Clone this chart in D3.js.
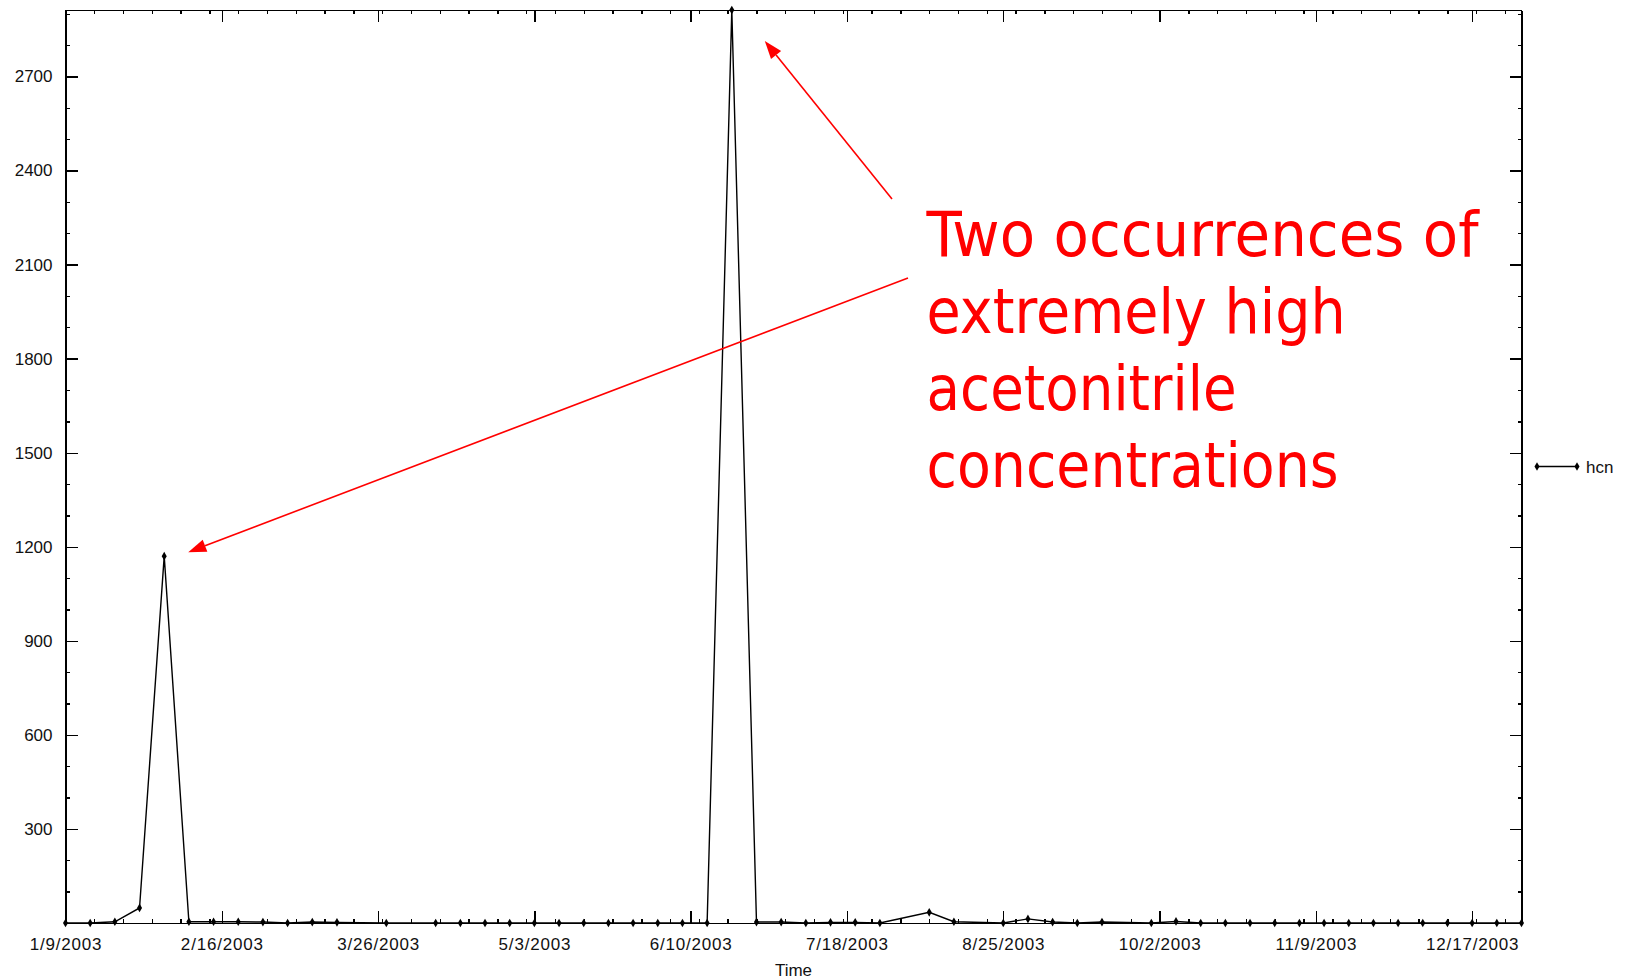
<!DOCTYPE html>
<html>
<head>
<meta charset="utf-8">
<script src="https://cdn.jsdelivr.net/npm/d3@7"></script>
<style>
  html, body { margin: 0; padding: 0; background: #fff; }
  svg { display: block; }
  .axis text { font-family: "Liberation Sans", Arial, sans-serif; font-size: 17px; fill: #111; }
  .axis path, .axis line { stroke: #000; stroke-width: 1.4px; shape-rendering: crispEdges; }
  .x-labels text { letter-spacing: 0.8px; }
</style>
</head>
<body>
<div id="chart"></div>
<script>
// 1-in-6 day samples (some days missing)
const sampleDates = [
  "1/9/2003", "1/15/2003", "1/21/2003", "1/27/2003", "2/2/2003", "2/8/2003",
  "2/14/2003", "2/20/2003", "2/26/2003", "3/4/2003", "3/10/2003", "3/16/2003",
  "3/28/2003", "4/9/2003", "4/15/2003", "4/21/2003", "4/27/2003", "5/3/2003",
  "5/9/2003", "5/15/2003", "5/21/2003", "5/27/2003", "6/2/2003", "6/8/2003",
  "6/14/2003", "6/20/2003", "6/26/2003", "7/2/2003", "7/8/2003", "7/14/2003",
  "7/20/2003", "7/26/2003", "8/7/2003", "8/13/2003", "8/25/2003", "8/31/2003",
  "9/6/2003", "9/12/2003", "9/18/2003", "9/30/2003", "10/6/2003", "10/12/2003",
  "10/18/2003", "10/24/2003", "10/30/2003", "11/5/2003", "11/11/2003", "11/17/2003",
  "11/23/2003", "11/29/2003", "12/5/2003", "12/11/2003", "12/17/2003", "12/23/2003",
  "12/29/2003",
]
const hcnValues = [
  0, 0, 4, 48, 1170, 4,
  4, 4, 3, 0, 3, 2,
  0, 0, 0, 0, 0, 0,
  0, 0, 0, 0, 0, 0,
  0, 2912, 3, 3, 0, 2,
  2, 0, 34, 4, 0, 13,
  3, 0, 3, 0, 5, 0,
  0, 0, 0, 0, 0, 0,
  0, 0, 0, 0, 0, 0,
  0,
]
const xTickLabels = [
  "1/9/2003", "2/16/2003", "3/26/2003", "5/3/2003", "6/10/2003",
  "7/18/2003", "8/25/2003", "10/2/2003", "11/9/2003", "12/17/2003",
]
const yTickValues = [300, 600, 900, 1200, 1500, 1800, 2100, 2400, 2700]
const yMax = 2912
const seriesName = "hcn"
const xAxisTitle = "Time"
const noteLines = [
  "Two occurrences of",
  "extremely high",
  "acetonitrile",
  "concentrations",
]

const drawChart = () => {
  // 1. Get Data
  const parseDate = d3.timeParse("%m/%d/%Y")
  const data = sampleDates.map((d, i) => ({ date: parseDate(d), value: hcnValues[i] }))
  const xAccessor = d => d.date
  const yAccessor = d => d.value

  // 2. Set Dimensions
  const dimensions = {
    width: 1627,
    height: 980,
    margin: { top: 10, right: 105.5, bottom: 57, left: 65.5 },
  }
  dimensions.boundedWidth =
    dimensions.width - dimensions.margin.left - dimensions.margin.right
  dimensions.boundedHeight =
    dimensions.height - dimensions.margin.top - dimensions.margin.bottom

  // 3. Set Scales
  const xScale = d3
    .scaleTime()
    .domain(d3.extent(data, xAccessor))
    .range([0, dimensions.boundedWidth])
  const yScale = d3
    .scaleLinear()
    .domain([0, yMax])
    .range([dimensions.boundedHeight, 0])

  // 4. Draw Graph
  const svg = d3
    .select("#chart")
    .append("svg")
    .attr("width", dimensions.width)
    .attr("height", dimensions.height)
  const bounds = svg
    .append("g")
    .attr("transform", `translate(${dimensions.margin.left},${dimensions.margin.top})`)

  // ticks: major labelled every 38 days, minor every Thursday, all pointing inward
  const majorX = xTickLabels.map(parseDate)
  const minorX = d3.timeThursday.range(
    xScale.domain()[0],
    d3.timeDay.offset(xScale.domain()[1], 1)
  )
  const minorY = d3.range(100, yMax, 100)
  const bw = dimensions.boundedWidth
  const bh = dimensions.boundedHeight

  const addAxis = (gen, transform, showLabels) => {
    const g = bounds.append("g").attr("class", "axis").attr("transform", transform)
    g.call(gen)
    if (!showLabels) g.selectAll("text").remove()
    return g
  }

  addAxis(d3.axisBottom(xScale).tickValues(minorX).tickSize(-4).tickSizeOuter(0), `translate(0,${bh})`, false)
  addAxis(d3.axisTop(xScale).tickValues(minorX).tickSize(-4).tickSizeOuter(0), "translate(0,0)", false)
  addAxis(d3.axisLeft(yScale).tickValues(minorY).tickSize(-4).tickSizeOuter(0), "translate(0,0)", false)
  addAxis(d3.axisRight(yScale).tickValues(minorY).tickSize(-4).tickSizeOuter(0), `translate(${bw},0)`, false)

  addAxis(
    d3.axisBottom(xScale).tickValues(majorX).tickSize(-12).tickSizeOuter(0)
      .tickPadding(15).tickFormat(d3.timeFormat("%-m/%-d/%Y")),
    `translate(0,${bh})`, true
  ).classed("x-labels", true)
  addAxis(d3.axisTop(xScale).tickValues(majorX).tickSize(-12).tickSizeOuter(0), "translate(0,0)", false)
  addAxis(
    d3.axisLeft(yScale).tickValues(yTickValues).tickSize(-12).tickSizeOuter(0)
      .tickPadding(13).tickFormat(d3.format("d")),
    "translate(0,0)", true
  )
  addAxis(d3.axisRight(yScale).tickValues(yTickValues).tickSize(-12).tickSizeOuter(0), `translate(${bw},0)`, false)

  const lineGen = d3
    .line()
    .x(d => xScale(xAccessor(d)))
    .y(d => yScale(yAccessor(d)))
  bounds
    .append("path")
    .datum(data)
    .attr("d", lineGen)
    .attr("fill", "none")
    .attr("stroke", "#000")
    .attr("stroke-width", 1.4)

  const diamond = d3.symbol(d3.symbolDiamond, 22)
  bounds
    .append("g")
    .selectAll("path")
    .data(data)
    .enter()
    .append("path")
    .attr("d", diamond)
    .attr("transform", d => `translate(${xScale(xAccessor(d))},${yScale(yAccessor(d))})`)
    .attr("fill", "#000")

  // 5. Draw Peripherals
  svg
    .append("text")
    .attr("x", dimensions.margin.left + bw / 2)
    .attr("y", 976)
    .attr("text-anchor", "middle")
    .style("font-family", '"Liberation Sans", Arial, sans-serif')
    .style("font-size", "17px")
    .attr("fill", "#111")
    .text(xAxisTitle)

  // legend
  const legend = svg.append("g").attr("transform", "translate(1537,466.5)")
  legend.append("line").attr("x1", 0).attr("x2", 40).attr("stroke", "#000").attr("stroke-width", 1.4)
  legend
    .selectAll("path")
    .data([0, 40])
    .enter()
    .append("path")
    .attr("d", diamond)
    .attr("transform", d => `translate(${d},0)`)
  legend
    .append("text")
    .attr("x", 49)
    .attr("y", 6.5)
    .style("font-family", '"Liberation Sans", Arial, sans-serif')
    .style("font-size", "17px")
    .attr("fill", "#111")
    .text(seriesName)

  // red note, DejaVu Sans squeezed to the Tahoma line widths of the original
  const noteWidths = [552, 419, 310, 412]
  const note = svg.append("g").attr("transform", "translate(926.6,256.3)")
  note
    .selectAll("text")
    .data(noteLines)
    .enter()
    .append("text")
    .attr("y", (d, i) => i * 77)
    .attr("textLength", (d, i) => noteWidths[i])
    .attr("lengthAdjust", "spacingAndGlyphs")
    .style("font-family", '"DejaVu Sans", Verdana, sans-serif')
    .style("font-size", "62.7px")
    .attr("fill", "#ff0000")
    .text(d => d)

  // arrows pointing at the two peaks
  const peaks = data.filter(d => d.value > 1000)
  const toPage = d => [
    dimensions.margin.left + xScale(xAccessor(d)),
    dimensions.margin.top + yScale(yAccessor(d)),
  ]
  const p1 = toPage(peaks[0])
  const p2 = toPage(peaks[1])
  const arrows = [
    { from: [892, 199], to: [p2[0] + 33, p2[1] + 31] },
    { from: [908, 278], to: [p1[0] + 24, p1[1] - 4] },
  ]
  const headLen = 18
  const headHalf = 6.5
  arrows.forEach(({ from, to }) => {
    const dx = to[0] - from[0]
    const dy = to[1] - from[1]
    const len = Math.hypot(dx, dy)
    const ux = dx / len
    const uy = dy / len
    const bx = to[0] - ux * headLen
    const by = to[1] - uy * headLen
    svg
      .append("line")
      .attr("x1", from[0])
      .attr("y1", from[1])
      .attr("x2", bx)
      .attr("y2", by)
      .attr("stroke", "#ff0000")
      .attr("stroke-width", 1.6)
    svg
      .append("polygon")
      .attr("points", [
        to,
        [bx - uy * headHalf, by + ux * headHalf],
        [bx + uy * headHalf, by - ux * headHalf],
      ].map(p => p.join(",")).join(" "))
      .attr("fill", "#ff0000")
  })
}

drawChart()
</script>
</body>
</html>
